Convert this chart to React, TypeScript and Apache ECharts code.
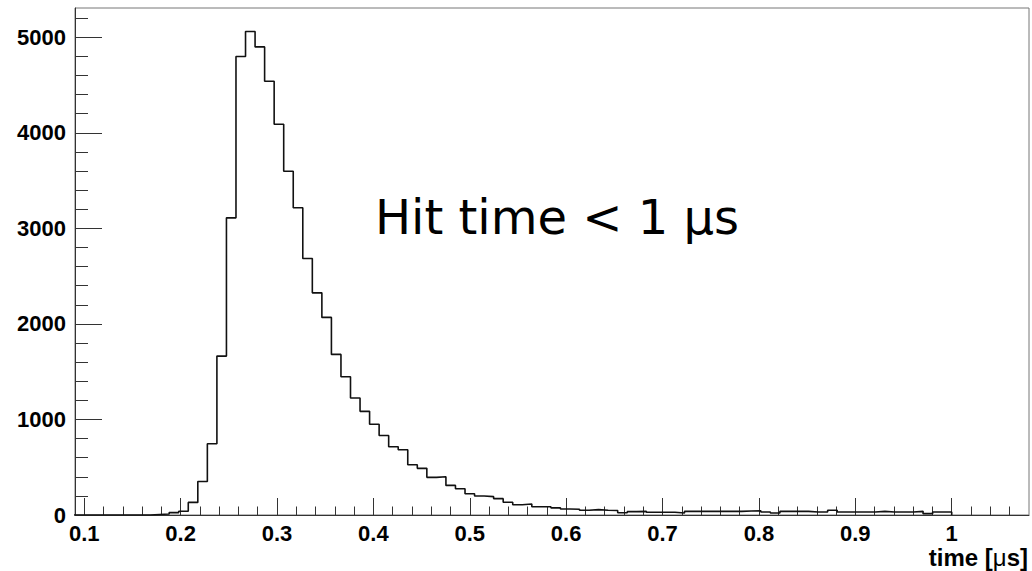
import React, { useEffect, useRef } from "react";
import * as echarts from "echarts";

// Histogram definition: 101 equal bins between HIST_LOW and HIST_HIGH (µs)
const HIST_LOW = 0;
const HIST_HIGH = 1;
const COUNTS: number[] = [
  0, 0, 0, 0, 0, 0, 0, 0, 0, 0,
  0, 0, 0, 0, 0, 0, 0, 5, 10, 25,
  40, 132, 350, 745, 1663, 3110, 4798, 5060, 4899, 4540,
  4090, 3597, 3215, 2685, 2325, 2068, 1681, 1447, 1224, 1085,
  950, 832, 715, 683, 526, 488, 394, 401, 310, 275,
  223, 199, 192, 171, 133, 108, 115, 87, 87, 75,
  63, 60, 49, 56, 49, 47, 24, 35, 38, 28,
  28, 28, 21, 38, 38, 38, 38, 38, 38, 42,
  45, 31, 21, 38, 38, 38, 31, 31, 49, 31,
  31, 31, 31, 38, 31, 31, 31, 38, 14, 31,
  31,
];

const X_MIN = 0.0904;
const X_MAX = 1.0802;
const Y_MIN = 0;
const Y_MAX = 5306;

const X_MAJOR = [0.1, 0.2, 0.3, 0.4, 0.5, 0.6, 0.7, 0.8, 0.9, 1.0];
const X_LABELS = ["0.1", "0.2", "0.3", "0.4", "0.5", "0.6", "0.7", "0.8", "0.9", "1"];
const Y_MAJOR = [0, 1000, 2000, 3000, 4000, 5000];
const Y_LABELS = ["0", "1000", "2000", "3000", "4000", "5000"];
const X_MINOR_STEP = 0.02;
const Y_MINOR_STEP = 200;

const TITLE_TEXT = "Hit time < 1 μs";
const X_TITLE_PARTS = ["time [", "μ", "s]"];

function labelFor(v: number, ticks: number[], labels: string[]): string {
  let best = 0;
  for (let i = 1; i < ticks.length; i++) {
    if (Math.abs(ticks[i] - v) < Math.abs(ticks[best] - v)) best = i;
  }
  return labels[best];
}

export default function App() {
  const ref = useRef<HTMLDivElement>(null);

  useEffect(() => {
    if (!ref.current) return;
    const chart = echarts.init(ref.current, undefined, { renderer: "svg" });

    const width = (HIST_HIGH - HIST_LOW) / COUNTS.length;
    const stepData: number[][] = COUNTS.map((c, i) => [HIST_LOW + i * width, c]);
    stepData.push([HIST_HIGH, 0]);

    const xMinor: number[] = [];
    for (let i = Math.ceil(X_MIN / X_MINOR_STEP); i * X_MINOR_STEP < X_MAX - 0.005; i++) {
      if (i % 5 !== 0) xMinor.push(i * X_MINOR_STEP);
    }
    const yMinor: number[] = [];
    for (let v = Y_MINOR_STEP; v < Y_MAX; v += Y_MINOR_STEP) {
      if (v % 1000 !== 0) yMinor.push(v);
    }

    const axisColor = "#333";
    const labelFont = {
      fontFamily: "Liberation Sans",
      fontWeight: "bold" as const,
      fontSize: 22,
      color: "#000",
    };

    chart.setOption({
      animation: false,
      backgroundColor: "#fff",
      grid: {
        left: 75,
        right: 3,
        top: 8,
        bottom: 56,
        show: true,
        borderColor: "#777",
        borderWidth: 1,
        containLabel: false,
      },
      xAxis: [
        {
          type: "value",
          min: X_MIN,
          max: X_MAX,
          position: "bottom",
          axisLine: { show: true, onZero: false, lineStyle: { color: axisColor, width: 1 } },
          axisTick: {
            show: true,
            inside: true,
            length: 17,
            customValues: X_MAJOR,
            lineStyle: { color: axisColor, width: 1 },
          },
          axisLabel: {
            ...labelFont,
            customValues: X_MAJOR,
            margin: 7,
            formatter: (v: number) => labelFor(v, X_MAJOR, X_LABELS),
          },
          splitLine: { show: false },
        },
        {
          type: "value",
          min: X_MIN,
          max: X_MAX,
          position: "bottom",
          axisLine: { show: false, onZero: false },
          axisTick: {
            show: true,
            inside: true,
            length: 8.5,
            customValues: xMinor,
            lineStyle: { color: axisColor, width: 1 },
          },
          axisLabel: { show: false },
          splitLine: { show: false },
        },
      ],
      yAxis: [
        {
          type: "value",
          min: Y_MIN,
          max: Y_MAX,
          position: "left",
          axisLine: { show: true, onZero: false, lineStyle: { color: axisColor, width: 1 } },
          axisTick: {
            show: true,
            inside: true,
            length: 27,
            customValues: Y_MAJOR,
            lineStyle: { color: axisColor, width: 1 },
          },
          axisLabel: {
            ...labelFont,
            customValues: Y_MAJOR,
            margin: 9,
            formatter: (v: number) => labelFor(v, Y_MAJOR, Y_LABELS),
          },
          splitLine: { show: false },
        },
        {
          type: "value",
          min: Y_MIN,
          max: Y_MAX,
          position: "left",
          axisLine: { show: false, onZero: false },
          axisTick: {
            show: true,
            inside: true,
            length: 13,
            customValues: yMinor,
            lineStyle: { color: axisColor, width: 1 },
          },
          axisLabel: { show: false },
          splitLine: { show: false },
        },
      ],
      series: [
        {
          type: "line",
          xAxisIndex: 0,
          yAxisIndex: 0,
          step: "end",
          symbol: "none",
          clip: true,
          data: stepData,
          lineStyle: { color: "#111", width: 1.6 },
        },
      ],
      graphic: [
        {
          type: "text",
          x: 375,
          y: 217,
          style: {
            text: TITLE_TEXT,
            fontFamily: "DejaVu Sans",
            fontSize: 48,
            fill: "#000",
            verticalAlign: "middle",
          },
        },
        {
          type: "text",
          x: 1028,
          y: 557,
          style: {
            text: `{b|${X_TITLE_PARTS[0]}}{m|${X_TITLE_PARTS[1]}}{b|${X_TITLE_PARTS[2]}}`,
            align: "right",
            verticalAlign: "middle",
            rich: {
              b: {
                fontFamily: "Liberation Sans",
                fontWeight: "bold",
                fontSize: 24,
                fill: "#000",
              },
              m: {
                fontFamily: "Liberation Sans",
                fontWeight: "normal",
                fontSize: 24,
                fill: "#000",
              },
            },
          },
        },
      ],
    });

    return () => chart.dispose();
  }, []);

  return (
    <div
      ref={ref}
      style={{ position: "absolute", left: 0, top: 0, width: 1032, height: 571 }}
    />
  );
}
